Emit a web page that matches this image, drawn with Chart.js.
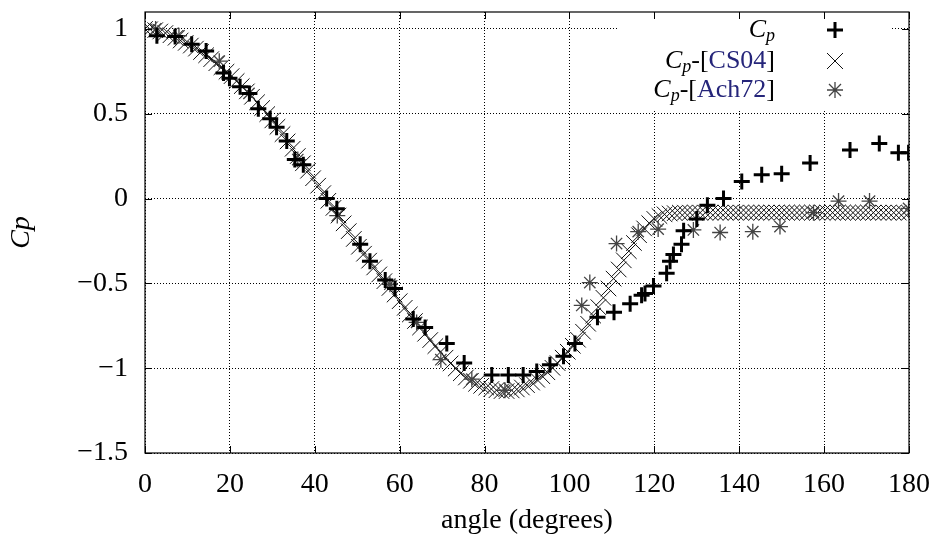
<!DOCTYPE html>
<html>
<head>
<meta charset="utf-8">
<script src="https://cdn.jsdelivr.net/npm/chart.js@4.4.1/dist/chart.umd.min.js"></script>
<style>
  html, body { margin: 0; padding: 0; background: #fff; }
  #wrap { width: 933px; height: 547px; }
</style>
</head>
<body>
<div id="wrap"><canvas id="cpChart" width="933" height="547"></canvas></div>
<script>
// Cp (+)
const cpAngle = [2.8, 7.1, 11.0, 14.4, 18.5, 19.9, 22.4, 24.6, 26.7, 29.5, 31.0, 33.4, 35.3, 37.3,
  42.8, 45.2, 50.7, 53.0, 56.6, 58.9, 63.2, 66.0, 71.1, 75.2, 81.7, 85.6, 89.1, 92.3, 95.4,
  98.6, 101.3, 106.6, 110.5, 114.3, 117.0, 117.8, 119.8, 122.9, 123.7, 124.5, 126.4, 126.9,
  130.0, 132.5, 136.3, 140.6, 145.3, 150.0, 156.7, 166.1, 173.0, 177.5, 179.9];
const cpValue = [0.96, 0.956, 0.91, 0.87, 0.74, 0.71, 0.66, 0.62, 0.53, 0.47, 0.42, 0.34, 0.23, 0.20,
  0.0, -0.06, -0.27, -0.37, -0.48, -0.53, -0.71, -0.76, -0.855, -0.97, -1.04, -1.04, -1.04, -1.02, -0.98,
  -0.93, -0.855, -0.70, -0.67, -0.62, -0.57, -0.56, -0.515, -0.44, -0.37, -0.33, -0.27, -0.19,
  -0.12, -0.04, 0.0, 0.10, 0.14, 0.146, 0.21, 0.286, 0.325, 0.27, 0.27];

// Cp-[CS04] (x)
const cs04Angle = [0, 1.2, 2.4, 3.6, 4.8, 6, 7.2, 8.4, 9.6, 10.8, 12, 13.2, 14.4, 15.6, 16.8, 18,
  19.2, 20.4, 21.6, 22.8, 24, 25.2, 26.4, 27.6, 28.8, 30, 31.2, 32.4, 33.6, 34.8, 36, 37.2, 38.4,
  39.6, 40.8, 42, 43.2, 44.4, 45.6, 46.8, 48, 49.2, 50.4, 51.6, 52.8, 54, 55.2, 56.4, 57.6, 58.8,
  60, 61.2, 62.4, 63.6, 64.8, 66, 67.2, 68.4, 69.6, 70.8, 72, 73.2, 74.4, 75.6, 76.8, 78, 79.2,
  80.4, 81.6, 82.8, 84, 85.2, 86.4, 87.6, 88.8, 90, 91.2, 92.4, 93.6, 94.8, 96, 97.2, 98.4, 99.6,
  100.8, 102, 103.2, 104.4, 105.6, 106.8, 108, 109.2, 110.4, 111.6, 112.8, 114, 115.2, 116.4,
  117.6, 118.8, 120, 121.2, 122.4, 123.6, 124.8, 126, 127.2, 128.4, 129.6, 130.8, 132, 133.2,
  134.4, 135.6, 136.8, 138, 139.2, 140.4, 141.6, 142.8, 144, 145.2, 146.4, 147.6, 148.8, 150,
  151.2, 152.4, 153.6, 154.8, 156, 157.2, 158.4, 159.6, 160.8, 162, 163.2, 164.4, 165.6, 166.8,
  168, 169.2, 170.4, 171.6, 172.8, 174, 175.2, 176.4, 177.6, 178.8, 180];
const cs04Value = [1.0, 0.998, 0.993, 0.985, 0.976, 0.963, 0.948, 0.932, 0.918, 0.902, 0.884,
  0.864, 0.845, 0.822, 0.798, 0.774, 0.748, 0.722, 0.693, 0.663, 0.632, 0.6, 0.568, 0.534, 0.498,
  0.461, 0.423, 0.38, 0.337, 0.294, 0.251, 0.208, 0.164, 0.12, 0.076, 0.032, -0.013, -0.055, -0.1,
  -0.146, -0.192, -0.238, -0.284, -0.325, -0.366, -0.406, -0.447, -0.487, -0.527, -0.566, -0.605,
  -0.644, -0.683, -0.722, -0.76, -0.797, -0.834, -0.87, -0.905, -0.938, -0.972, -1.002, -1.03,
  -1.055, -1.074, -1.092, -1.104, -1.114, -1.123, -1.13, -1.135, -1.135, -1.131, -1.125, -1.114,
  -1.1, -1.085, -1.068, -1.047, -1.024, -0.998, -0.97, -0.938, -0.903, -0.868, -0.832, -0.785,
  -0.738, -0.69, -0.64, -0.585, -0.53, -0.472, -0.418, -0.364, -0.31, -0.262, -0.216, -0.176,
  -0.145, -0.12, -0.103, -0.093, -0.088, -0.086, -0.083, -0.083, -0.083, -0.083, -0.083, -0.083,
  -0.083, -0.083, -0.083, -0.083, -0.083, -0.083, -0.083, -0.083, -0.083, -0.083, -0.083, -0.083,
  -0.083, -0.083, -0.083, -0.083, -0.083, -0.083, -0.083, -0.083, -0.083, -0.083, -0.083, -0.083,
  -0.083, -0.083, -0.083, -0.083, -0.083, -0.083, -0.083, -0.083, -0.083, -0.083, -0.083, -0.083,
  -0.083, -0.083, -0.083, -0.083];

// Cp-[Ach72] (*)
const ach72Angle = [2.5, 8, 17.5, 24.5, 36, 45.3, 57.7, 64, 69.7, 77, 84.8, 102.9, 104.8, 111.1,
  116.2, 120.9, 129.2, 135.5, 143.2, 149.6, 157.5, 163.4, 170.7, 179.9];
const ach72Value = [1.0, 0.96, 0.81, 0.62, 0.23, -0.10, -0.505, -0.73, -0.95, -1.065, -1.13, -0.63,
  -0.495, -0.265, -0.195, -0.18, -0.185, -0.20, -0.195, -0.165, -0.083, -0.015, -0.015, -0.058];

const xTicks = [0, 20, 40, 60, 80, 100, 120, 140, 160, 180];
const yTicks = [-1.5, -1, -0.5, 0, 0.5, 1];

const FONT = '"Liberation Serif", "DejaVu Serif", serif';
const NAVY = '#25257a';

function pts(xs, ys) {
  return xs.map((x, i) => ({ x: x, y: ys[i] }));
}

// frame with inward ticks on all four sides
const framePlugin = {
  id: 'frame',
  afterDatasetsDraw(chart) {
    const ctx = chart.ctx;
    const a = chart.chartArea;
    const xs = chart.scales.x, ys = chart.scales.y;
    ctx.save();
    ctx.strokeStyle = '#000';
    ctx.lineWidth = 1.2;
    ctx.strokeRect(a.left, a.top, a.right - a.left, a.bottom - a.top);
    ctx.lineWidth = 1;
    ctx.beginPath();
    xs.ticks.forEach(t => {
      const p = Math.round(xs.getPixelForValue(t.value)) + 0.5;
      ctx.moveTo(p, a.bottom); ctx.lineTo(p, a.bottom - 7);
      ctx.moveTo(p, a.top); ctx.lineTo(p, a.top + 7);
    });
    ys.ticks.forEach(t => {
      const p = Math.round(ys.getPixelForValue(t.value)) + 0.5;
      ctx.moveTo(a.left, p); ctx.lineTo(a.left + 7, p);
      ctx.moveTo(a.right, p); ctx.lineTo(a.right - 7, p);
    });
    ctx.stroke();
    ctx.restore();
  }
};

// key box in the upper right
const keyPlugin = {
  id: 'key',
  beforeDatasetsDraw(chart) {
    const ctx = chart.ctx;
    ctx.save();
    ctx.fillStyle = '#fff';
    ctx.fillRect(618, chart.chartArea.top + 1, 274, 98);
    ctx.restore();
  },
  afterDatasetsDraw(chart) {
    const ctx = chart.ctx;
    const rows = [
      { y: 30, ref: null, mark: 'plus' },
      { y: 61, ref: 'CS04', mark: 'cross' },
      { y: 90, ref: 'Ach72', mark: 'star' }
    ];
    const big = 'italic 26px ' + FONT;
    const sub = 'italic 18px ' + FONT;
    const up = '26px ' + FONT;
    ctx.save();
    ctx.textBaseline = 'middle';
    ctx.textAlign = 'left';
    rows.forEach(r => {
      const parts = [{ t: 'C', f: big, c: '#000', dy: 0 }, { t: 'p', f: sub, c: '#000', dy: 6 }];
      if (r.ref) {
        parts.push({ t: '-[', f: up, c: '#000', dy: 0 });
        parts.push({ t: r.ref, f: up, c: NAVY, dy: 0 });
        parts.push({ t: ']', f: up, c: '#000', dy: 0 });
      }
      let w = 0;
      parts.forEach(p => { ctx.font = p.f; p.w = ctx.measureText(p.t).width; w += p.w; });
      let x = 775 - w;
      parts.forEach(p => {
        ctx.font = p.f;
        ctx.fillStyle = p.c;
        ctx.fillText(p.t, x, r.y + p.dy);
        x += p.w;
      });
      // key glyph
      const cx = 835, cy = r.y;
      ctx.beginPath();
      if (r.mark === 'plus') {
        ctx.strokeStyle = '#000'; ctx.lineWidth = 3;
        ctx.moveTo(cx - 8, cy); ctx.lineTo(cx + 8, cy);
        ctx.moveTo(cx, cy - 8); ctx.lineTo(cx, cy + 8);
      } else if (r.mark === 'cross') {
        ctx.strokeStyle = '#111'; ctx.lineWidth = 1;
        ctx.moveTo(cx - 8, cy - 8); ctx.lineTo(cx + 8, cy + 8);
        ctx.moveTo(cx - 8, cy + 8); ctx.lineTo(cx + 8, cy - 8);
      } else {
        ctx.strokeStyle = '#444'; ctx.lineWidth = 1.3;
        ctx.moveTo(cx - 8, cy); ctx.lineTo(cx + 8, cy);
        ctx.moveTo(cx, cy - 8); ctx.lineTo(cx, cy + 8);
        ctx.moveTo(cx - 6, cy - 6); ctx.lineTo(cx + 6, cy + 6);
        ctx.moveTo(cx - 6, cy + 6); ctx.lineTo(cx + 6, cy - 6);
      }
      ctx.stroke();
    });
    ctx.restore();
  }
};

const ctx = document.getElementById('cpChart').getContext('2d');
new Chart(ctx, {
  type: 'scatter',
  data: {
    datasets: [
      {
        label: 'Cp',
        data: pts(cpAngle, cpValue),
        pointStyle: 'cross',
        pointRadius: 8,
        borderColor: '#000',
        backgroundColor: '#000',
        pointBorderWidth: 3
      },
      {
        label: 'Cp-[Ach72]',
        data: pts(ach72Angle, ach72Value),
        pointStyle: 'star',
        pointRadius: 8,
        borderColor: '#444',
        backgroundColor: '#444',
        pointBorderWidth: 1.3
      },
      {
        label: 'Cp-[CS04]',
        data: pts(cs04Angle, cs04Value),
        pointStyle: 'crossRot',
        pointRadius: 11,
        borderColor: '#111',
        backgroundColor: '#111',
        pointBorderWidth: 1
      }
    ]
  },
  options: {
    responsive: false,
    animation: false,
    layout: { padding: { top: 7, right: 24, left: 0, bottom: 0 } },
    plugins: {
      legend: { display: false },
      tooltip: { enabled: false }
    },
    scales: {
      x: {
        type: 'linear',
        min: 0,
        max: 180,
        afterBuildTicks: s => { s.ticks = xTicks.map(v => ({ value: v })); },
        afterFit: s => { s.height = 94; s.paddingLeft = 0; s.paddingRight = 0; },
        grid: { color: '#000', lineWidth: 1, drawTicks: false },
        border: { display: false, dash: [1, 2] },
        ticks: {
          color: '#000',
          padding: 15,
          maxRotation: 0,
          font: { family: FONT, size: 28 }
        },
        title: {
          display: true,
          text: 'angle (degrees)',
          color: '#000',
          font: { family: FONT, size: 28 },
          padding: { top: 0, bottom: 10 }
        }
      },
      y: {
        type: 'linear',
        min: -1.5,
        max: 1.1,
        afterBuildTicks: s => { s.ticks = yTicks.map(v => ({ value: v })); },
        afterFit: s => { s.width = 145; s.paddingTop = 0; s.paddingBottom = 0; },
        grid: { color: '#000', lineWidth: 1, drawTicks: false },
        border: { display: false, dash: [1, 2] },
        ticks: {
          color: '#000',
          padding: 17,
          font: { family: FONT, size: 28 },
          callback: v => String(v).replace('-', '\u2212')
        },
        title: {
          display: true,
          text: 'Cp',
          color: '#000',
          font: { family: FONT, size: 28, style: 'italic' },
          padding: { top: 5, bottom: 0 }
        }
      }
    }
  },
  plugins: [keyPlugin, framePlugin]
});
</script>
</body>
</html>
